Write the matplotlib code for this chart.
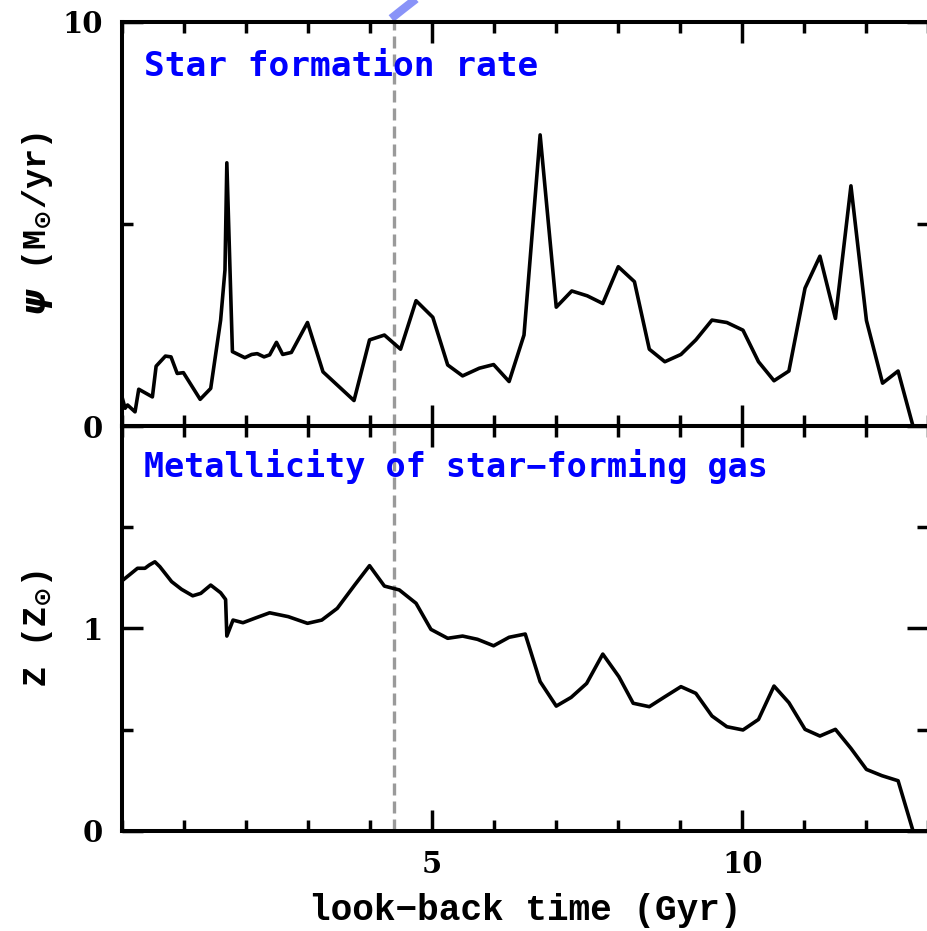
import numpy as np
import matplotlib
matplotlib.use("Agg")
import matplotlib.pyplot as plt
from matplotlib.ticker import MultipleLocator, FixedLocator

# star formation history (look-back time in Gyr, SFR in Msun/yr)
t_sfr = [0.00, 0.05, 0.09, 0.21, 0.27, 0.49, 0.55, 0.70, 0.79, 0.89, 0.99,
         1.26, 1.43, 1.59, 1.66, 1.69, 1.78, 1.98, 2.09, 2.18, 2.29, 2.38,
         2.49, 2.59, 2.73, 2.99, 3.24, 3.74, 3.99, 4.23, 4.49, 4.74, 5.01,
         5.25, 5.49, 5.76, 5.99, 6.24, 6.48, 6.74, 7.00, 7.25, 7.50, 7.75,
         8.00, 8.26, 8.50, 8.75, 9.01, 9.25, 9.51, 9.75, 10.01, 10.26, 10.51,
         10.75, 11.01, 11.25, 11.50, 11.75, 12.00, 12.26, 12.51, 12.75]
sfr = [0.72, 0.44, 0.52, 0.35, 0.91, 0.72, 1.48, 1.73, 1.71, 1.30, 1.32,
       0.66, 0.93, 2.62, 3.86, 6.51, 1.84, 1.69, 1.77, 1.79, 1.71, 1.76,
       2.07, 1.77, 1.82, 2.56, 1.34, 0.63, 2.13, 2.25, 1.90, 3.10, 2.69,
       1.51, 1.24, 1.43, 1.52, 1.10, 2.25, 7.20, 2.94, 3.34, 3.22, 3.03,
       3.94, 3.57, 1.90, 1.59, 1.77, 2.13, 2.62, 2.56, 2.37, 1.59, 1.12,
       1.36, 3.41, 4.20, 2.66, 5.94, 2.61, 1.06, 1.36, 0.00]

# metallicity of the star-forming gas (Zsun)
t_z = [0.00, 0.13, 0.25, 0.37, 0.44, 0.53, 0.61, 0.80, 0.96, 1.14, 1.27,
       1.43, 1.59, 1.67, 1.69, 1.79, 1.95, 2.14, 2.38, 2.68, 2.99, 3.22,
       3.47, 3.75, 3.99, 4.23, 4.47, 4.74, 4.98, 5.25, 5.49, 5.73, 5.99,
       6.24, 6.50, 6.74, 7.00, 7.24, 7.49, 7.75, 8.01, 8.24, 8.50, 8.75,
       9.01, 9.25, 9.51, 9.75, 10.01, 10.26, 10.51, 10.75, 11.01, 11.25,
       11.50, 11.75, 12.00, 12.25, 12.51, 12.75]
metal = [1.235, 1.267, 1.297, 1.297, 1.313, 1.329, 1.305, 1.231, 1.193,
         1.161, 1.173, 1.214, 1.176, 1.143, 0.962, 1.041, 1.028, 1.050,
         1.077, 1.058, 1.025, 1.041, 1.099, 1.214, 1.310, 1.209, 1.190,
         1.124, 0.995, 0.951, 0.962, 0.946, 0.914, 0.956, 0.972, 0.737,
         0.616, 0.659, 0.728, 0.873, 0.761, 0.630, 0.613, 0.662, 0.712,
         0.679, 0.567, 0.514, 0.498, 0.550, 0.715, 0.633, 0.501, 0.468,
         0.501, 0.407, 0.303, 0.272, 0.247, 0.000]

t_now = 4.38

# bit of a blue curve poking in from above the top panel
arc_t = [4.34, 4.52, 4.72, 4.90]
arc_v = [10.08, 10.30, 10.54, 10.80]

mono = ['DejaVu Sans Mono', 'DejaVu Sans']
courier = ['Liberation Mono', 'DejaVu Sans']
serif = ['DejaVu Serif', 'DejaVu Sans']

plt.rcParams['font.family'] = serif
plt.rcParams['font.weight'] = 'bold'
plt.rcParams['mathtext.fontset'] = 'dejavusans'

fig = plt.figure(figsize=(9.27, 9.31), dpi=100)
left, right = 0.1316, 1.0016
top, mid, bot = 0.9767, 0.5424, 0.1077
ax1 = fig.add_axes([left, mid, right - left, top - mid])
ax2 = fig.add_axes([left, bot, right - left, mid - bot], sharex=ax1)

for ax in (ax1, ax2):
    for sp in ax.spines.values():
        sp.set_linewidth(2.9)
    ax.tick_params(which='both', direction='in', top=True, right=True,
                   width=2.5, pad=14, labelsize=21)
    ax.tick_params(which='major', length=15)
    ax.tick_params(which='minor', length=8)
    ax.axvline(t_now, color='#9a9a9a', lw=2.4, dashes=(3.6, 1.8), zorder=1)

ax1.plot(t_sfr, sfr, color='black', lw=2.6, zorder=3)
ax1.plot(arc_t, arc_v, color='#7480f7', lw=6, alpha=0.85,
         solid_capstyle='butt', clip_on=False)
ax1.set_ylim(0, 10)
ax1.yaxis.set_major_locator(FixedLocator([0, 10]))
ax1.yaxis.set_minor_locator(FixedLocator([5]))
ax1.tick_params(labelbottom=False)

ax2.plot(t_z, metal, color='black', lw=2.6, zorder=3)
ax2.set_ylim(0, 2)
ax2.yaxis.set_major_locator(FixedLocator([0, 1, 2]))
ax2.yaxis.set_minor_locator(FixedLocator([0.5, 1.5]))
ax2.set_yticklabels(['0', '1', ''])

ax2.set_xlim(0, 13)
ax2.xaxis.set_major_locator(FixedLocator([5, 10]))
ax2.xaxis.set_minor_locator(MultipleLocator(1))
ax2.set_xticklabels(['5', '10'])

ax1.text(0.027, 0.8657, 'Star formation rate', transform=ax1.transAxes,
         color='#0000ff', fontsize=24.8, fontweight='bold', family=mono,
         va='baseline', ha='left')
ax2.text(0.027, 0.8747, 'Metallicity of star\u2212forming gas',
         transform=ax2.transAxes, color='#0000ff', fontsize=24.0,
         fontweight='bold', family=mono, va='baseline', ha='left')

ax1.text(-0.105, 0.5, r'$\boldsymbol{\psi}$ (M$_{\odot}$/yr)',
         transform=ax1.transAxes, rotation=90, ha='center', va='center',
         fontsize=24, fontweight='bold', family=courier)
ax2.text(-0.105, 0.5, r'Z (Z$_{\odot}$)', transform=ax2.transAxes,
         rotation=90, ha='center', va='center', fontsize=24,
         fontweight='bold', family=courier)

fig.text(0.5662, 1 - 920 / 931, 'look\u2212back time (Gyr)', ha='center',
         va='baseline', fontsize=26, fontweight='bold', family=courier)

fig.savefig('out.png', dpi=100)
